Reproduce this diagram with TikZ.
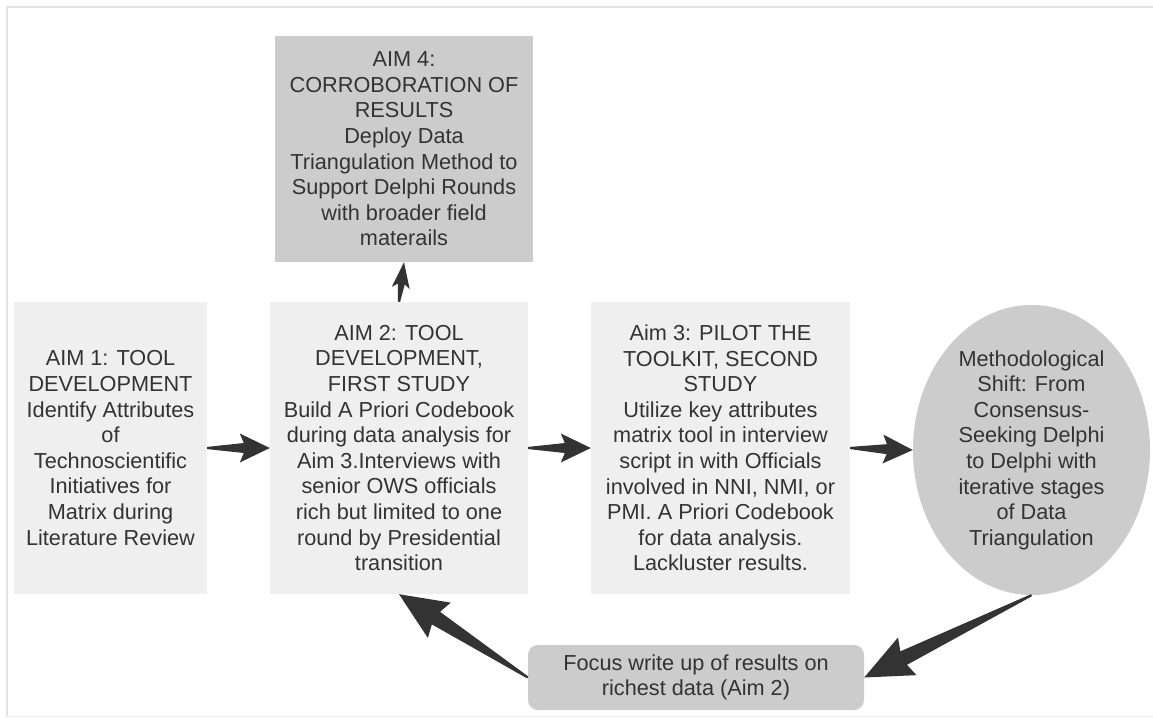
\documentclass[tikz,border=0pt]{standalone}
\usepackage{fontspec}
\setmainfont{Liberation Sans}
\usetikzlibrary{calc,shapes.geometric}
\definecolor{boxlight}{HTML}{EFEFEF}
\definecolor{boxdark}{HTML}{CCCCCC}
\definecolor{inkgray}{HTML}{333333}
\definecolor{framegray}{HTML}{E4E4E4}
\newcommand\taperarrow[5]{%
  \coordinate (ta-b) at ($(#2)!#3!(#1)$);
  \coordinate (ta-c) at ($(#2)!#3+4pt!(#1)$);
  \fill[arrowfill] ($(#1)!1.1pt!90:(#2)$) -- ($(ta-b)!#5!90:(#2)$) -- ($(ta-c)!#4!90:(#2)$) -- (#2)
    -- ($(ta-c)!#4!-90:(#2)$) -- ($(ta-b)!#5!-90:(#2)$) -- ($(#1)!1.1pt!-90:(#2)$) -- cycle;
}
\tikzset{
  txt/.style={font=\fontsize{21.7}{25.6}\selectfont, text=inkgray, align=center, inner sep=0pt},
  lightbox/.style={txt, rectangle, fill=boxlight},
  darkbox/.style={txt, rectangle, fill=boxdark},
  arrowfill/.style={fill=inkgray},
}
\begin{document}
\begin{tikzpicture}[x=1pt,y=-1pt]
\useasboundingbox (0,0) rectangle (1153,717);
\fill[white] (0,0) rectangle (1153,717);
\draw[framegray, line width=1.2pt] (7,717) -- (7,7) -- (1153,7);
\draw[framegray!60, line width=1pt] (7,716) -- (1153,716);

\node[lightbox, minimum width=193pt, minimum height=292pt] (a1) at (110.5,448)
  {AIM 1: TOOL\\DEVELOPMENT\\Identify Attributes\\of\\Technoscientific\\Initiatives for\\Matrix during\\Literature Review};
\node[lightbox, minimum width=258pt, minimum height=292pt] (a2) at (399,448)
  {AIM 2: TOOL\\DEVELOPMENT,\\FIRST STUDY\\Build A Priori Codebook\\during data analysis for\\Aim 3.Interviews with\\senior OWS officials\\rich but limited to one\\round by Presidential\\transition};
\node[lightbox, minimum width=259pt, minimum height=292pt] (a3) at (720.5,448)
  {Aim 3: PILOT THE\\TOOLKIT, SECOND\\STUDY\\Utilize key attributes\\matrix tool in interview\\script in with Officials\\involved in NNI, NMI, or\\PMI. A Priori Codebook\\for data analysis.\\Lackluster results.};
\node[darkbox, minimum width=258pt, minimum height=226pt] (a4) at (404,149)
  {AIM 4:\\CORROBORATION OF\\RESULTS\\Deploy Data\\Triangulation Method to\\Support Delphi Rounds\\with broader field\\materails};
\node[txt, ellipse, fill=boxdark, minimum width=237pt, minimum height=290pt] (ms) at (1031.5,450)
  {Methodological\\Shift: From\\Consensus-\\Seeking Delphi\\to Delphi with\\iterative stages\\of Data\\Triangulation};
\node[darkbox, rounded corners=10pt, minimum width=336pt, minimum height=65pt] (fo) at (696,677.5)
  {Focus write up of results on\\richest data (Aim 2)};

\taperarrow{a1.east}{a2.west}{26pt}{14.5pt}{5pt}
\taperarrow{a2.east}{a3.west}{26pt}{14.5pt}{5pt}
\taperarrow{a3.east}{ms.west}{26pt}{14.5pt}{5pt}
\taperarrow{a2.north}{a4.south}{22pt}{9pt}{3.5pt}
\taperarrow{ms.south}{fo.east}{44pt}{21pt}{7.5pt}
\taperarrow{fo.west}{a2.south}{44pt}{21pt}{7.5pt}
\end{tikzpicture}
\end{document}
